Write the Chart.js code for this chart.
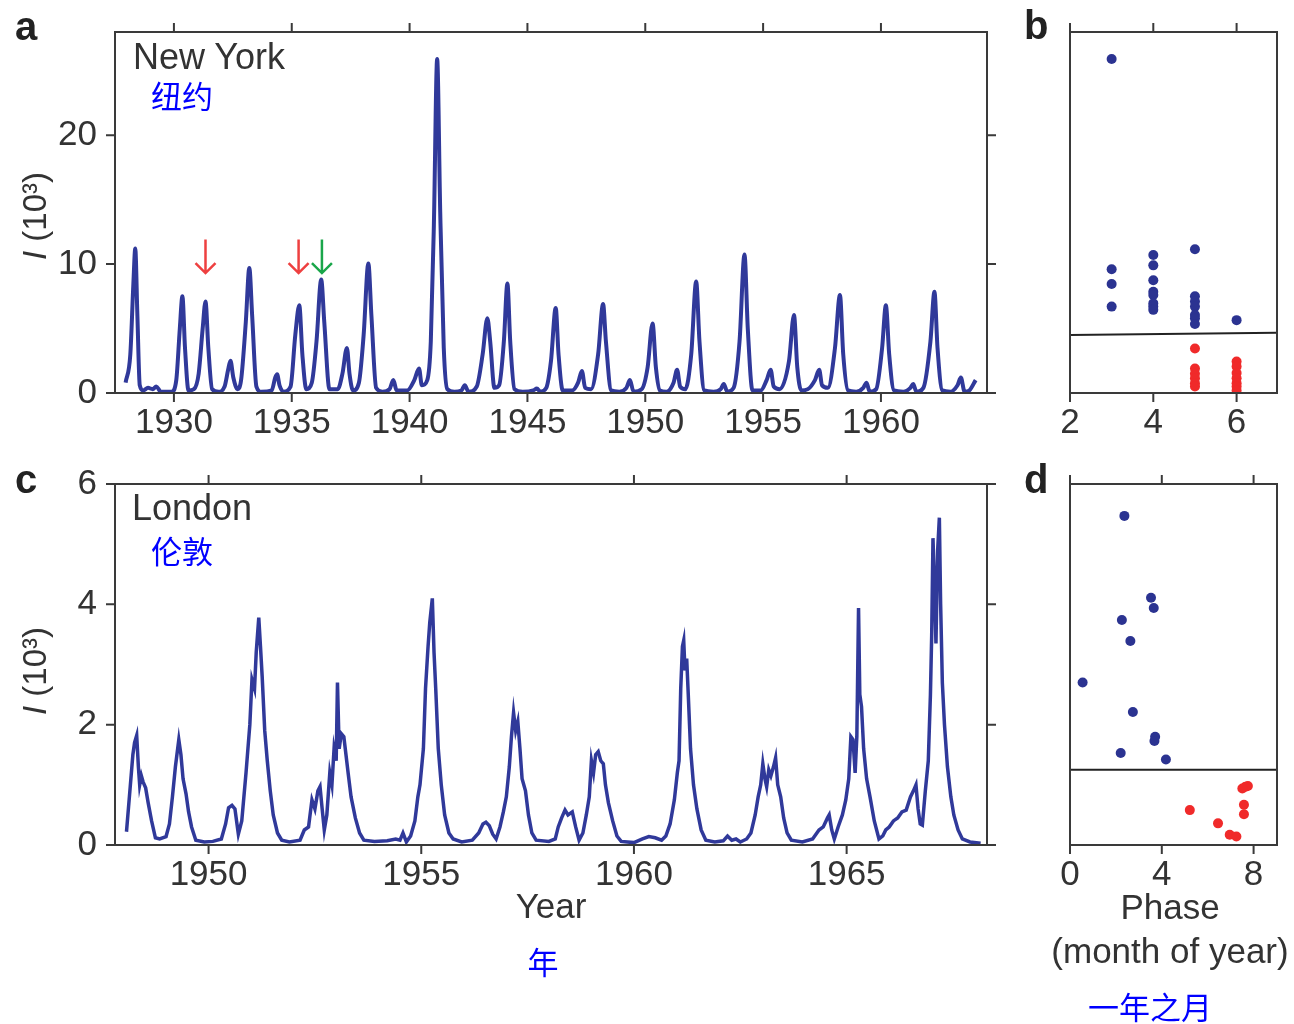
<!DOCTYPE html>
<html>
<head>
<meta charset="utf-8">
<script src="https://cdn.jsdelivr.net/npm/chart.js@4.4.0/dist/chart.umd.min.js"></script>
<style>
  body { margin:0; background:#fff; width:1294px; height:1024px; position:relative; overflow:hidden;
         font-family:"Liberation Sans", Arial, sans-serif; color:#333; }
  .panel { position:absolute; }
  .txt { position:absolute; white-space:nowrap; line-height:1; }
  .lbl { font-weight:bold; font-size:40px; color:#222; }
  .city { font-size:36px; }
  .zh { font-family:"Noto Sans CJK SC", sans-serif; font-size:31px; color:#0000ff; }
  .ytitle { font-size:33px; transform:translate(-50%,-50%) rotate(-90deg); }
  .ctr { font-size:35px; transform:translate(-50%,-50%); }
</style>
</head>
<body>
<div class="panel" style="left:0;top:0;width:1000px;height:445px"><canvas id="chartA"></canvas></div>
<div class="panel" style="left:1000px;top:0;width:294px;height:445px"><canvas id="chartB"></canvas></div>
<div class="panel" style="left:0;top:452px;width:1000px;height:445px"><canvas id="chartC"></canvas></div>
<div class="panel" style="left:1000px;top:452px;width:294px;height:445px"><canvas id="chartD"></canvas></div>

<div class="txt lbl" style="left:15px;top:6px">a</div>
<div class="txt lbl" style="left:1024px;top:5px">b</div>
<div class="txt lbl" style="left:15px;top:459px">c</div>
<div class="txt lbl" style="left:1024px;top:459px">d</div>

<div class="txt city" style="left:133px;top:39px">New York</div>
<div class="txt zh" style="left:151px;top:79px">纽约</div>
<div class="txt city" style="left:132px;top:490px">London</div>
<div class="txt zh" style="left:151px;top:534px">伦敦</div>

<div class="txt ytitle" style="left:34px;top:216px"><i>I</i> (10³)</div>
<div class="txt ytitle" style="left:34px;top:671px"><i>I</i> (10³)</div>

<div class="txt ctr" style="left:551px;top:905px">Year</div>
<div class="txt zh ctr" style="left:543px;top:960px;font-size:31px">年</div>
<div class="txt ctr" style="left:1170px;top:906px">Phase</div>
<div class="txt ctr" style="left:1170px;top:950px">(month of year)</div>
<div class="txt zh ctr" style="left:1150px;top:1005px;font-size:31px">一年之月</div>

<script>
// ---- panel a: New York, cases (thousands) ----
const nyYear = [1927.95,1928.15,1928.28,1928.36,1928.45,1928.55,1928.7,1928.9,1929.1,1929.25,1929.45,1929.9,
  1930.1,1930.25,1930.36,1930.47,1930.62,1930.85,1931.05,1931.22,1931.34,1931.46,1931.62,1931.9,
  1932.15,1932.3,1932.4,1932.52,1932.7,1932.85,1933.05,1933.2,1933.32,1933.5,1933.7,
  1934.15,1934.3,1934.38,1934.48,1934.65,1934.95,1935.15,1935.32,1935.45,1935.62,1935.85,
  1936.05,1936.25,1936.38,1936.6,1936.95,1937.15,1937.34,1937.45,1937.6,1937.85,
  1938.05,1938.25,1938.38,1938.58,1938.85,1939.15,1939.31,1939.45,1939.9,
  1940.2,1940.4,1940.52,1940.75,1940.9,1941.03,1941.17,1941.3,1941.45,1941.6,1941.9,
  1942.2,1942.34,1942.5,1942.85,1943.1,1943.3,1943.42,1943.6,1943.8,1944.0,1944.15,1944.27,1944.45,1944.8,
  1945.25,1945.4,1945.55,1945.8,1946.0,1946.2,1946.32,1946.5,1946.9,1947.15,1947.31,1947.45,1947.7,
  1948.0,1948.21,1948.33,1948.55,1948.9,1949.2,1949.35,1949.5,1949.85,
  1950.1,1950.31,1950.45,1950.62,1950.9,1951.2,1951.35,1951.48,1951.7,
  1951.95,1952.16,1952.3,1952.5,1952.9,1953.2,1953.33,1953.48,1953.75,
  1954.0,1954.21,1954.35,1954.55,1954.9,1955.15,1955.32,1955.45,1955.7,
  1956.1,1956.31,1956.45,1956.62,1956.9,1957.2,1957.38,1957.5,1957.75,
  1958.05,1958.26,1958.4,1958.6,1958.95,1959.25,1959.39,1959.52,1959.8,
  1960.05,1960.21,1960.35,1960.55,1960.95,1961.25,1961.37,1961.5,1961.8,
  1962.1,1962.27,1962.4,1962.6,1962.95,1963.25,1963.39,1963.55,1963.75,1964.02];
const nyCases = [0.8,3.0,8.5,11.2,6.0,0.6,0.2,0.4,0.3,0.5,0.1,0.1,
  1.0,5.0,7.5,3.5,0.2,0.3,1.5,5.0,7.1,3.5,0.3,0.1,
  0.5,1.8,2.5,1.2,0.3,1.0,5.5,9.7,6.0,0.5,0.1,
  0.2,1.2,1.45,0.6,0.1,0.5,4.5,6.8,3.0,0.3,0.8,
  4.0,8.8,5.5,0.3,0.3,1.5,3.5,1.5,0.2,0.8,
  4.5,10.05,6.0,0.4,0.1,0.3,1.0,0.2,0.2,
  1.0,1.9,0.6,1.0,4.0,13.0,25.9,14.0,3.5,0.3,0.1,
  0.2,0.6,0.1,0.5,3.0,5.8,4.0,0.4,0.6,4.0,8.5,4.0,0.3,0.1,
  0.2,0.35,0.1,0.4,2.5,6.6,3.0,0.2,0.2,0.8,1.7,0.4,0.3,
  3.0,6.9,4.0,0.2,0.1,0.4,1.0,0.1,0.3,
  2.0,5.4,2.0,0.2,0.1,0.8,1.8,0.5,0.3,
  3.0,8.65,4.0,0.2,0.1,0.3,0.7,0.1,0.4,
  4.0,10.75,5.0,0.2,0.2,1.0,1.8,0.5,0.3,
  2.5,6.05,2.0,0.2,0.3,1.0,1.8,0.6,0.4,
  3.5,7.6,3.0,0.2,0.1,0.4,0.8,0.1,0.3,
  3.5,6.8,3.0,0.2,0.1,0.4,0.7,0.1,0.4,
  4.0,7.85,3.5,0.2,0.1,0.6,1.2,0.1,0.2,1.0];
const nyTicksX = [1930,1935,1940,1945,1950,1955,1960];
const nyTicksY = [0,10,20];
const arrowYear = [1931.34,1935.29,1936.28];
const arrowColor = ['#ee4040','#ee4040','#1aa64a'];

// ---- panel b: New York phase ----
const bBlueX = [3,3,3,3, 4,4,4,4,4,4,4,4, 5,5,5,5,5,5,5, 6];
const bBlueY = [25.9,9.6,8.45,6.7, 10.7,9.9,8.75,7.85,7.6,6.95,6.7,6.45, 11.15,7.5,7.1,6.7,6.05,5.8,5.35, 5.65];
const bRedX = [5,5,5,5,5,5, 6,6,6,6,6,6,6];
const bRedY = [3.45,1.9,1.5,1.15,0.75,0.5, 2.45,2.05,1.55,1.15,0.75,0.5,0.2];
const bSplitX = [2,6.97];
const bSplitY = [4.5,4.68];
const bTicksX = [2,4,6];

// ---- panel c: London, cases (thousands) ----
const lonYear = [1948.07,1948.15,1948.22,1948.26,1948.31,1948.35,1948.38,1948.42,1948.46,1948.52,1948.58,1948.66,1948.75,1948.85,
  1949.0,1949.08,1949.15,1949.22,1949.3,1949.35,1949.4,1949.47,1949.53,1949.6,1949.7,1949.9,
  1950.1,1950.3,1950.4,1950.47,1950.55,1950.62,1950.7,1950.78,1950.88,1950.97,1951.02,1951.08,1951.12,1951.18,1951.22,1951.26,
  1951.32,1951.38,1951.45,1951.52,1951.62,1951.72,1951.9,
  1952.15,1952.25,1952.35,1952.43,1952.5,1952.57,1952.62,1952.67,1952.72,1952.78,1952.85,1952.9,1952.95,1953.0,1953.03,1953.07,
  1953.12,1953.18,1953.23,1953.28,1953.35,1953.45,1953.55,1953.65,1953.9,
  1954.2,1954.4,1954.5,1954.57,1954.65,1954.75,1954.85,1954.92,1954.97,1955.05,1955.1,1955.16,1955.2,1955.26,1955.3,1955.34,
  1955.4,1955.47,1955.55,1955.65,1955.75,1955.95,
  1956.2,1956.35,1956.45,1956.52,1956.6,1956.68,1956.76,1956.85,1956.93,1957.0,1957.07,1957.12,1957.17,1957.22,1957.27,1957.32,
  1957.37,1957.45,1957.52,1957.6,1957.7,
  1958.0,1958.15,1958.22,1958.3,1958.38,1958.45,1958.55,1958.63,1958.71,1958.8,1958.88,1958.95,1959.0,1959.05,1959.1,1959.16,
  1959.22,1959.28,1959.33,1959.4,1959.5,1959.6,1959.7,
  1960.0,1960.2,1960.35,1960.5,1960.65,1960.75,1960.85,1960.95,1961.02,1961.06,1961.1,1961.14,1961.17,1961.2,1961.24,1961.28,
  1961.33,1961.4,1961.48,1961.58,1961.69,1961.9,
  1962.1,1962.2,1962.3,1962.4,1962.5,1962.65,1962.75,1962.85,1962.92,1962.98,1963.03,1963.08,1963.12,1963.17,1963.22,1963.28,
  1963.33,1963.38,1963.45,1963.52,1963.6,1963.7,1963.96,
  1964.2,1964.35,1964.45,1964.55,1964.59,1964.65,1964.71,1964.8,1964.9,1964.98,1965.05,1965.1,1965.15,1965.2,1965.24,1965.28,
  1965.31,1965.35,1965.4,1965.47,1965.55,1965.65,1965.76,1965.85,1965.92,
  1966.0,1966.1,1966.2,1966.3,1966.4,1966.5,1966.57,1966.63,1966.68,1966.73,1966.78,1966.85,1966.92,1966.97,1967.0,1967.03,
  1967.07,1967.1,1967.14,1967.18,1967.21,1967.25,1967.3,1967.37,1967.45,1967.52,1967.62,1967.72,1967.9,1968.15];
const lonCases = [0.22,0.9,1.5,1.7,1.82,1.3,1.0,1.15,1.05,0.95,0.7,0.4,0.12,0.1,
  0.14,0.35,0.8,1.3,1.75,1.5,1.1,0.85,0.55,0.3,0.08,0.05,
  0.06,0.1,0.35,0.62,0.66,0.6,0.18,0.4,1.2,2.0,2.75,2.6,3.2,3.78,3.3,2.8,
  1.9,1.4,0.9,0.5,0.2,0.08,0.05,
  0.08,0.25,0.3,0.75,0.6,0.9,0.97,0.6,0.25,0.5,1.2,1.0,1.6,1.4,2.7,1.6,
  1.85,1.8,1.5,1.2,0.8,0.45,0.2,0.08,0.06,
  0.07,0.1,0.08,0.2,0.05,0.15,0.4,0.8,1.0,1.6,2.6,3.3,3.7,4.1,3.2,2.6,
  1.6,1.0,0.5,0.2,0.1,0.05,
  0.08,0.2,0.35,0.38,0.32,0.18,0.1,0.3,0.55,0.8,1.3,1.8,2.2,1.9,2.05,1.6,
  1.1,0.9,0.5,0.2,0.08,
  0.06,0.1,0.3,0.45,0.58,0.5,0.55,0.3,0.08,0.2,0.5,0.8,1.4,1.2,1.5,1.55,
  1.4,1.35,1.0,0.7,0.4,0.15,0.06,
  0.04,0.1,0.14,0.12,0.08,0.15,0.35,0.75,1.2,1.4,2.6,3.3,3.4,2.9,3.1,2.45,
  1.6,1.0,0.6,0.25,0.08,0.05,
  0.07,0.15,0.08,0.1,0.05,0.1,0.2,0.5,0.8,1.0,1.35,1.1,0.97,1.25,1.15,1.3,
  1.45,1.0,0.8,0.45,0.2,0.08,0.05,
  0.1,0.25,0.3,0.45,0.5,0.25,0.1,0.3,0.5,0.75,1.1,1.8,1.75,1.2,1.8,3.94,
  2.5,2.3,1.6,1.1,0.8,0.4,0.1,0.15,0.25,
  0.3,0.4,0.45,0.55,0.58,0.8,0.9,1.0,0.6,0.35,0.33,0.9,1.4,2.5,3.5,5.1,
  4.2,3.35,4.9,5.44,4.0,2.7,2.0,1.3,0.8,0.5,0.25,0.1,0.05,0.03];
const lonTicksX = [1950,1955,1960,1965];
const lonTicksY = [0,2,4,6];

// ---- panel d: London phase ----
const dBlueX = [2.37,3.53,3.65,2.26,2.63,0.55,2.74,3.71,3.68,2.21,4.18];
const dBlueY = [5.47,4.11,3.94,3.74,3.39,2.70,2.21,1.80,1.73,1.53,1.42];
const dRedX = [7.65,7.75,7.51,7.58,7.58,5.22,6.45,6.96,7.25];
const dRedY = [0.97,0.98,0.94,0.67,0.51,0.58,0.36,0.17,0.14];
const dSplitX = [0,9];
const dSplitY = [1.25,1.25];
const dTicksX = [0,4,8];

const lineBlue = '#30399a';
const dotBlue = '#2b3391';
const dotRed = '#f02a2a';

Chart.defaults.font.family = "'Liberation Sans', Arial, sans-serif";
Chart.defaults.font.size = 35;
Chart.defaults.color = '#333';
Chart.defaults.animation = false;

const pairs = (xs, ys) => xs.map((x, i) => ({x: x, y: ys[i]}));

// box around the plot with outward ticks on all four sides
const framePlugin = {
  id: 'frame',
  afterDatasetsDraw(chart, args, opts) {
    const ctx = chart.ctx, a = chart.chartArea;
    const x = chart.scales.x, y = chart.scales.y;
    const len = 9;
    ctx.save();
    ctx.strokeStyle = '#3a3a3a';
    ctx.lineWidth = 2;
    ctx.strokeRect(a.left, a.top, a.right - a.left, a.bottom - a.top);
    ctx.beginPath();
    (opts.xTicks || []).forEach(v => {
      const px = x.getPixelForValue(v);
      ctx.moveTo(px, a.bottom); ctx.lineTo(px, a.bottom + len);
      ctx.moveTo(px, a.top); ctx.lineTo(px, a.top - len);
    });
    (opts.yTicks || []).forEach(v => {
      const py = y.getPixelForValue(v);
      ctx.moveTo(a.left, py); ctx.lineTo(a.left - len, py);
      ctx.moveTo(a.right, py); ctx.lineTo(a.right + len, py);
    });
    ctx.stroke();
    ctx.restore();
  }
};

// down arrows over selected epidemics
const arrowPlugin = {
  id: 'arrows',
  afterDatasetsDraw(chart, args, opts) {
    if (!opts.years) return;
    const ctx = chart.ctx, x = chart.scales.x, y = chart.scales.y;
    opts.years.forEach((yr, i) => {
      const px = x.getPixelForValue(yr);
      const top = y.getPixelForValue(opts.from), tip = y.getPixelForValue(opts.to);
      ctx.save();
      ctx.strokeStyle = opts.colors[i];
      ctx.lineWidth = 2.5;
      ctx.beginPath();
      ctx.moveTo(px, top); ctx.lineTo(px, tip);
      ctx.moveTo(px - 10, tip - 10); ctx.lineTo(px, tip); ctx.lineTo(px + 10, tip - 10);
      ctx.stroke();
      ctx.restore();
    });
  }
};

function xScale(min, max, ticks, h) {
  return {
    type: 'linear', min: min, max: max,
    grid: {display: false, drawTicks: false}, border: {display: false},
    ticks: {padding: 9, autoSkip: false, maxRotation: 0, callback: v => String(v)},
    afterBuildTicks: s => { s.ticks = ticks.map(v => ({value: v})); },
    afterFit: s => { s.height = h; s.paddingLeft = 0; s.paddingRight = 0; }
  };
}
function yScale(min, max, ticks, show) {
  if (!show) return {type: 'linear', min: min, max: max, display: false};
  return {
    type: 'linear', min: min, max: max,
    grid: {display: false, drawTicks: false}, border: {display: false},
    ticks: {padding: 18, callback: v => String(v)},
    afterBuildTicks: s => { s.ticks = ticks.map(v => ({value: v})); },
    afterFit: s => { s.width = 115; s.paddingTop = 0; s.paddingBottom = 0; }
  };
}

function seriesChart(id, xs, ys, xr, yr, tX, tY, smooth, extra) {
  return new Chart(document.getElementById(id), {
    type: 'line',
    data: {datasets: [{
      data: pairs(xs, ys), borderColor: lineBlue, borderWidth: smooth ? 4 : 3.5, pointRadius: 0,
      tension: smooth ? 0.4 : 0, cubicInterpolationMode: smooth ? 'monotone' : 'default'
    }]},
    options: {
      responsive: true, maintainAspectRatio: false,
      layout: {padding: {left: 0, top: 32, right: 13, bottom: 0}},
      scales: {x: xScale(xr[0], xr[1], tX, 52), y: yScale(yr[0], yr[1], tY, true)},
      plugins: Object.assign({legend: {display: false}, tooltip: {enabled: false},
        frame: {xTicks: tX, yTicks: tY}}, extra || {})
    },
    plugins: [framePlugin, arrowPlugin]
  });
}

function phaseChart(id, bx, by, rx, ry, sx, sy, xr, yr, tX) {
  return new Chart(document.getElementById(id), {
    type: 'scatter',
    data: {datasets: [
      {data: pairs(sx, sy), showLine: true, borderColor: '#222', borderWidth: 2, pointRadius: 0},
      {data: pairs(bx, by), backgroundColor: dotBlue, borderWidth: 0, pointRadius: 5},
      {data: pairs(rx, ry), backgroundColor: dotRed, borderWidth: 0, pointRadius: 5}
    ]},
    options: {
      responsive: true, maintainAspectRatio: false,
      layout: {padding: {left: 70, top: 32, right: 17, bottom: 0}},
      scales: {x: xScale(xr[0], xr[1], tX, 52), y: yScale(yr[0], yr[1], [], false)},
      plugins: {legend: {display: false}, tooltip: {enabled: false}, frame: {xTicks: tX, yTicks: []}}
    },
    plugins: [framePlugin]
  });
}

seriesChart('chartA', nyYear, nyCases, [1927.5, 1964.5], [0, 28], nyTicksX, nyTicksY, true,
  {arrows: {years: arrowYear, colors: arrowColor, from: 11.9, to: 9.3}});
phaseChart('chartB', bBlueX, bBlueY, bRedX, bRedY, bSplitX, bSplitY, [2, 6.97], [0, 28], bTicksX);
seriesChart('chartC', lonYear, lonCases, [1947.8, 1968.3], [0, 6], lonTicksX, lonTicksY, false);
phaseChart('chartD', dBlueX, dBlueY, dRedX, dRedY, dSplitX, dSplitY, [0, 9.02], [0, 6], dTicksX);
</script>
</body>
</html>
